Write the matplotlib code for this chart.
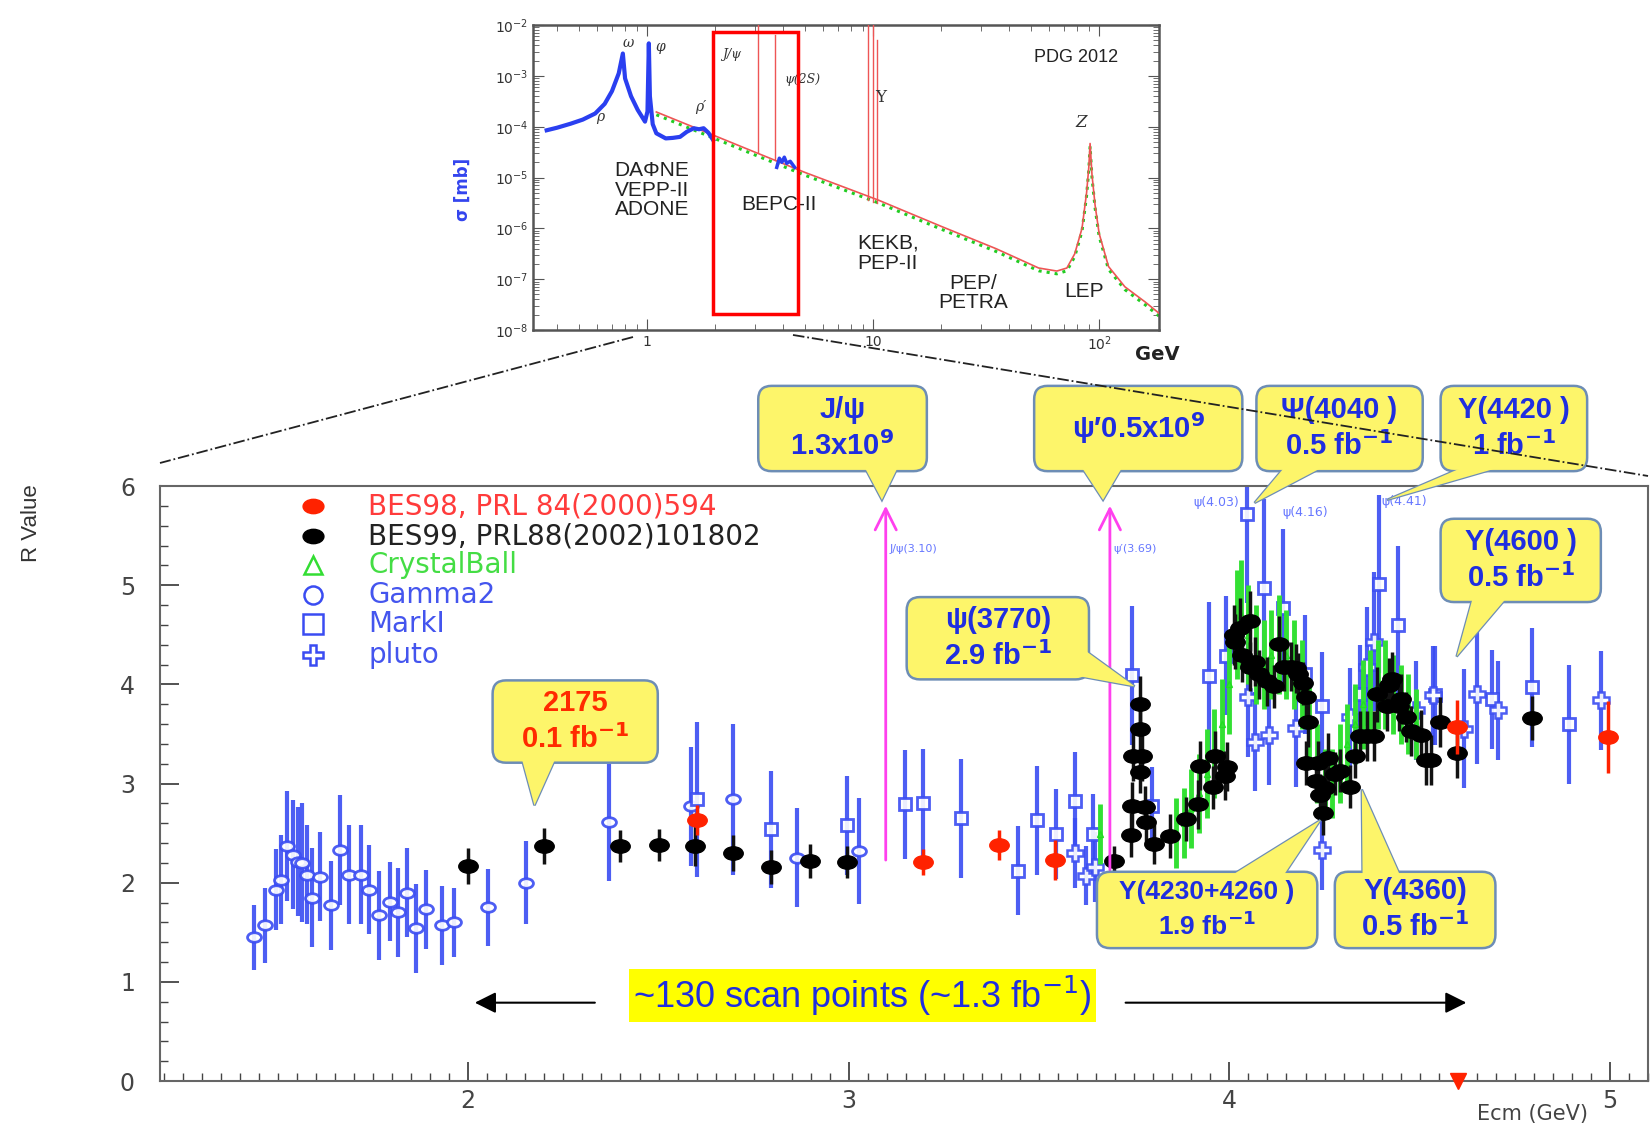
import matplotlib
matplotlib.use("Agg")
import matplotlib.pyplot as plt
from matplotlib.patches import FancyBboxPatch, Polygon, Rectangle
from matplotlib.path import Path
from matplotlib.transforms import Affine2D, ScaledTranslation
from matplotlib.lines import Line2D
from matplotlib.ticker import MultipleLocator, NullFormatter, LogLocator

# ---------------- main plot data: R value vs Ecm (GeV) ----------------
# BES98 (red)
bes98_E = [2.600, 3.196, 3.394, 3.542, 4.597, 4.994]
bes98_R = [2.63, 2.21, 2.38, 2.23, 3.57, 3.47]
bes98_err = [0.15, 0.13, 0.15, 0.20, 0.27, 0.36]

# BES99 (black)
bes99_E = [2.000, 2.200, 2.400, 2.500, 2.596, 2.696, 2.795, 2.897, 2.994,
           3.697, 3.742, 3.745, 3.748, 3.764, 3.764, 3.766, 3.770, 3.777, 3.781,
           3.802, 3.845, 3.886, 3.918, 3.924, 3.957, 3.963, 3.989, 3.995, 4.012,
           4.014, 4.027, 4.034, 4.053, 4.053, 4.066, 4.079, 4.098, 4.117, 4.130,
           4.143, 4.162, 4.175, 4.181, 4.194, 4.201, 4.201, 4.207, 4.227, 4.233,
           4.239, 4.246, 4.252, 4.259, 4.278, 4.291, 4.317, 4.329, 4.342, 4.361,
           4.381, 4.387, 4.413, 4.419, 4.426, 4.445, 4.451, 4.464, 4.477, 4.503,
           4.516, 4.529, 4.554, 4.597, 4.796]
bes99_R = [2.17, 2.37, 2.37, 2.38, 2.37, 2.30, 2.16, 2.22, 2.21,
           2.22, 2.48, 2.77, 3.28, 3.80, 3.55, 3.12, 3.28, 2.76, 2.61,
           2.39, 2.47, 2.64, 2.79, 3.18, 2.96, 3.28, 3.08, 3.17, 4.50,
           4.43, 4.57, 4.30, 4.64, 4.18, 4.23, 4.10, 4.03, 3.98, 4.41,
           4.18, 4.18, 4.16, 4.10, 4.01, 3.87, 3.21, 3.62, 3.03, 3.21,
           2.88, 2.70, 2.95, 3.26, 3.10, 3.13, 2.97, 3.28, 3.48, 3.48,
           3.48, 3.90, 3.78, 3.99, 4.05, 3.78, 3.85, 3.67, 3.53, 3.49,
           3.24, 3.24, 3.62, 3.31, 3.66]
bes99_err = [0.18, 0.18, 0.16, 0.16, 0.20, 0.18, 0.17, 0.17, 0.16,
             0.15, 0.22, 0.25, 0.25, 0.28, 0.25, 0.22, 0.25, 0.22, 0.22,
             0.20, 0.22, 0.22, 0.25, 0.25, 0.22, 0.25, 0.25, 0.25, 0.30,
             0.28, 0.30, 0.28, 0.30, 0.25, 0.25, 0.25, 0.25, 0.22, 0.28,
             0.25, 0.25, 0.25, 0.22, 0.22, 0.22, 0.22, 0.25, 0.22, 0.22,
             0.22, 0.22, 0.22, 0.25, 0.22, 0.22, 0.22, 0.22, 0.25, 0.25,
             0.25, 0.28, 0.25, 0.28, 0.28, 0.25, 0.25, 0.25, 0.25, 0.25,
             0.25, 0.25, 0.25, 0.25, 0.22]

# Crystal Ball (green)
cb_E = [3.661, 3.860, 3.880, 3.900, 3.920, 3.940, 3.960, 3.980, 4.000, 4.020,
        4.030, 4.050, 4.070, 4.090, 4.110, 4.130, 4.150, 4.170, 4.190, 4.210,
        4.230, 4.250, 4.270, 4.290, 4.310, 4.330, 4.350, 4.370, 4.390, 4.410,
        4.430, 4.450, 4.470, 4.490]
cb_R = [2.49, 2.50, 2.60, 2.75, 2.90, 3.10, 3.30, 3.60, 4.00, 4.60,
        4.70, 4.50, 4.30, 4.20, 4.30, 4.40, 4.30, 4.20, 4.00, 3.60,
        3.20, 3.00, 3.00, 3.20, 3.40, 3.60, 3.80, 3.90, 4.00, 4.00,
        3.90, 3.80, 3.70, 3.60]
cb_err = [0.30, 0.35, 0.35, 0.40, 0.40, 0.45, 0.45, 0.45, 0.50, 0.55,
          0.55, 0.50, 0.50, 0.45, 0.45, 0.50, 0.45, 0.45, 0.45, 0.40,
          0.40, 0.35, 0.35, 0.40, 0.40, 0.40, 0.45, 0.45, 0.45, 0.45,
          0.40, 0.40, 0.40, 0.35]

# Gamma2 (blue open ellipses)
g2_E = [1.437, 1.466, 1.494, 1.509, 1.525, 1.540, 1.553, 1.563, 1.575, 1.590,
        1.611, 1.640, 1.662, 1.686, 1.717, 1.739, 1.766, 1.795, 1.816, 1.838,
        1.863, 1.890, 1.930, 1.963, 2.053, 2.152, 2.369, 2.584, 2.696, 2.863,
        3.027]
g2_R = [1.45, 1.57, 1.93, 2.03, 2.37, 2.28, 2.21, 2.20, 2.08, 1.85,
        2.06, 1.77, 2.33, 2.08, 2.08, 1.93, 1.67, 1.81, 1.70, 1.90,
        1.54, 1.73, 1.57, 1.60, 1.75, 2.00, 2.61, 2.77, 2.84, 2.25,
        2.32]
g2_err = [0.33, 0.38, 0.41, 0.45, 0.55, 0.55, 0.55, 0.60, 0.50, 0.50,
          0.45, 0.45, 0.55, 0.50, 0.50, 0.45, 0.45, 0.40, 0.45, 0.45,
          0.45, 0.40, 0.40, 0.35, 0.39, 0.42, 0.59, 0.60, 0.76, 0.50,
          0.53]

# MarkI (blue open squares)
mk_E = [2.600, 2.795, 2.996, 3.147, 3.196, 3.295, 3.445, 3.494, 3.545, 3.593,
        3.642, 3.745, 3.796, 3.946, 3.991, 4.046, 4.092, 4.140, 4.198, 4.243,
        4.342, 4.393, 4.442, 4.539, 4.689, 4.796, 4.892]
mk_R = [2.84, 2.54, 2.58, 2.79, 2.80, 2.65, 2.12, 2.63, 2.49, 2.82,
        2.49, 4.09, 2.77, 4.08, 4.29, 5.72, 4.97, 4.77, 4.10, 3.78,
        3.90, 5.01, 4.60, 3.89, 3.85, 3.97, 3.60]
mk_err = [0.78, 0.59, 0.50, 0.55, 0.55, 0.60, 0.45, 0.55, 0.45, 0.50,
          0.40, 0.70, 0.40, 0.75, 0.60, 0.90, 0.90, 0.80, 0.60, 0.55,
          0.50, 0.90, 0.80, 0.50, 0.50, 0.60, 0.60]

# pluto (blue open crosses)
pl_E = [3.594, 3.622, 3.648, 4.049, 4.066, 4.104, 4.175, 4.243, 4.316, 4.361,
        4.381, 4.490, 4.535, 4.616, 4.650, 4.705, 4.976]
pl_R = [2.30, 2.07, 2.16, 3.87, 3.42, 3.49, 3.56, 2.33, 3.67, 4.18,
        4.43, 3.74, 3.89, 3.55, 3.90, 3.74, 3.84]
pl_err = [0.35, 0.30, 0.35, 0.60, 0.50, 0.50, 0.60, 0.40, 0.50, 0.60,
          0.70, 0.50, 0.50, 0.60, 0.70, 0.50, 0.50]

legend_labels = ["BES98, PRL 84(2000)594", "BES99, PRL88(2002)101802",
                 "CrystalBall", "Gamma2", "MarkI", "pluto"]

# narrow resonances marked with arrows
res_E = [3.097, 3.686]
res_bottom = [2.20, 2.10]
res_labels = ["J/ψ(3.10)", "ψ′(3.69)"]
psi_lab_E = [3.906, 4.140, 4.400]
psi_lab_R = [5.83, 5.73, 5.84]
psi_labels = ["ψ(4.03)", "ψ(4.16)", "ψ(4.41)"]

# callouts: box (E0, E1, R0, R1), tail (base1, tip, base2), text, colour, size
callouts = [
    ((2.762, 3.205, 6.15, 7.01), ((3.04, 6.2), (3.087, 5.86), (3.13, 6.2)),
     "J/ψ\n1.3x10$^{\\mathbf{9}}$", "#1f2ee0", 21),
    ((3.487, 4.034, 6.15, 7.01), ((3.61, 6.2), (3.668, 5.86), (3.72, 6.2)),
     "ψ′0.5x10$^{\\mathbf{9}}$", "#1f2ee0", 21),
    ((4.071, 4.508, 6.15, 7.01), ((4.147, 6.2), (4.066, 5.83), (4.25, 6.2)),
     "Ψ(4040 )\n0.5 fb$^{\\mathbf{-1}}$", "#1f2ee0", 21),
    ((4.555, 4.940, 6.15, 7.01), ((4.62, 6.2), (4.414, 5.86), (4.72, 6.2)),
     "Υ(4420 )\n1 fb$^{\\mathbf{-1}}$", "#1f2ee0", 21),
    ((4.555, 4.976, 4.83, 5.67), ((4.64, 4.88), (4.597, 4.28), (4.73, 4.88)),
     "Υ(4600 )\n0.5 fb$^{\\mathbf{-1}}$", "#1f2ee0", 21),
    ((3.152, 3.631, 4.05, 4.88), ((3.58, 4.10), (3.751, 3.98), (3.60, 4.40)),
     "ψ(3770)\n2.9 fb$^{\\mathbf{-1}}$", "#1f2ee0", 21),
    ((2.064, 2.498, 3.21, 4.04), ((2.14, 3.26), (2.174, 2.78), (2.23, 3.26)),
     "2175\n0.1 fb$^{\\mathbf{-1}}$", "#ff2a00", 21),
    ((3.652, 4.231, 1.34, 2.11), ((4.00, 2.06), (4.239, 2.63), (4.14, 2.06)),
     "Υ(4230+4260 )\n1.9 fb$^{\\mathbf{-1}}$", "#1f2ee0", 19),
    ((4.277, 4.699, 1.34, 2.11), ((4.35, 2.06), (4.348, 2.94), (4.45, 2.06)),
     "Υ(4360)\n0.5 fb$^{\\mathbf{-1}}$", "#1f2ee0", 21),
]

scan_range = (2.01, 4.63)
scan_text = "~130 scan points (~1.3 fb$^{-1}$)"

# ---------------- inset data: PDG 2012 cross section ----------------
low_E = [0.36, 0.40, 0.46, 0.52, 0.59, 0.65, 0.70, 0.75, 0.782, 0.80,
         0.85, 0.91, 0.98, 1.005, 1.019, 1.03, 1.06, 1.10, 1.21, 1.30,
         1.40, 1.50, 1.61, 1.70, 1.78, 1.87, 1.96]
low_logsig = [-4.07, -4.02, -3.94, -3.86, -3.74, -3.55, -3.30, -2.95, -2.56, -3.05,
              -3.40, -3.67, -3.90, -3.70, -2.36, -3.40, -3.95, -4.13, -4.23, -4.22,
              -4.20, -4.10, -4.03, -4.05, -4.03, -4.12, -4.26]
bepc_blue_E = [3.75, 3.85, 3.95, 4.05, 4.15, 4.30, 4.50]
bepc_blue_logsig = [-4.80, -4.62, -4.70, -4.60, -4.72, -4.68, -4.80]
cont_E = [1.1, 2.0, 3.0, 5.0, 10.5, 20, 35, 54, 65, 72, 78, 84, 88, 90,
          91.2, 93, 96, 100, 110, 130, 160, 184]
cont_logsig = [-3.71, -4.18, -4.50, -4.90, -5.44, -5.96, -6.40, -6.78, -6.84, -6.78,
               -6.50, -6.00, -5.30, -4.80, -4.33, -4.95, -5.55, -6.10, -6.75, -7.15,
               -7.45, -7.67]
spike_E = [3.097, 3.686, 9.46, 10.02, 10.36]
spike_base = [-4.50, -4.65, -5.45, -5.48, -5.50]
spike_top = [-1.90, -2.20, -1.90, -2.00, -2.30]
bepc_box_E = (1.96, 4.66)
bepc_box_sig = (2.1e-8, 7.2e-3)

BLUE = "#3a4cf2"
SANS = ["Liberation Sans", "DejaVu Sans"]

fig = plt.figure(figsize=(16.51, 11.29), dpi=100)
fig.patch.set_facecolor("white")

# ================= main axes =================
ax = fig.add_axes([0.0969, 0.0425, 0.9013, 0.527])
ax.set_xlim(1.19, 5.10)
ax.set_ylim(0, 6)

ell = Path.unit_circle().transformed(Affine2D().scale(1.45, 1.0))

ax.errorbar(g2_E, g2_R, yerr=g2_err, ls="none", marker=ell, ms=10, mfc="white",
            mec=BLUE, mew=2, ecolor=BLUE, elinewidth=3, alpha=0.9, zorder=2)
ax.errorbar(mk_E, mk_R, yerr=mk_err, ls="none", marker="s", ms=8.5, mfc="white",
            mec=BLUE, mew=2, ecolor=BLUE, elinewidth=3, alpha=0.9, zorder=2)
ax.errorbar(pl_E, pl_R, yerr=pl_err, ls="none", marker="P", ms=11, mfc="white",
            mec=BLUE, mew=1.8, ecolor=BLUE, elinewidth=3, alpha=0.9, zorder=2)
ax.errorbar(cb_E, cb_R, yerr=cb_err, ls="none", marker="^", ms=5, mfc="none",
            mec="#22dd22", ecolor="#33e033", elinewidth=3.5, zorder=3)
ax.errorbar(bes99_E, bes99_R, yerr=bes99_err, ls="none", marker=ell, ms=14,
            mfc="black", mec="black", ecolor="#111111", elinewidth=2.5, zorder=4)
ax.errorbar(bes98_E, bes98_R, yerr=bes98_err, ls="none", marker=ell, ms=14,
            mfc="#ff2200", mec="#ff2200", ecolor="#ff2200", elinewidth=2.5, zorder=5)

# resonance arrows
for e, b, lab in zip(res_E, res_bottom, res_labels):
    ax.annotate("", xy=(e, 5.83), xytext=(e, b),
                arrowprops=dict(arrowstyle="->", color="#ff40ee", lw=2,
                                mutation_scale=38), zorder=6)
    ax.text(e + 0.01, 5.36, lab, color="#6677ff", fontsize=8, va="center")
for e, r, lab in zip(psi_lab_E, psi_lab_R, psi_labels):
    ax.text(e, r, lab, color="#6677ff", fontsize=9, va="center")

# legend (manual)
leg_marks = [dict(marker=ell, ms=15, mfc="#ff2200", mec="#ff2200"),
             dict(marker=ell, ms=15, mfc="black", mec="black"),
             dict(marker="^", ms=13, mfc="none", mec="#33dd33", mew=1.8),
             dict(marker="o", ms=13, mfc="none", mec=BLUE, mew=1.8),
             dict(marker="s", ms=14, mfc="none", mec=BLUE, mew=1.8),
             dict(marker="P", ms=15, mfc="none", mec=BLUE, mew=1.8)]
leg_colors = ["#ff3b3b", "#222222", "#44dd44", "#4455ee", "#4455ee", "#4455ee"]
leg_y = [0.966, 0.916, 0.867, 0.817, 0.768, 0.716]
for mk, col, y, lab in zip(leg_marks, leg_colors, leg_y, legend_labels):
    ax.plot([0.103], [y], transform=ax.transAxes, ls="none", **mk)
    ax.text(0.14, y, lab, transform=ax.transAxes, color=col, fontsize=20,
            va="center", family="DejaVu Sans")


def callout(box, tail, text, color, fs):
    e0, e1, r0, r1 = box
    z = 8
    tail_pts = list(tail)
    ax.add_patch(Polygon(tail_pts, closed=True, fc="#fdf56a", ec="#6d8db5", lw=1.8,
                         zorder=z, clip_on=False))
    ax.add_patch(FancyBboxPatch((e0, r0), e1 - e0, r1 - r0,
                                boxstyle="round,pad=0,rounding_size=0.035",
                                mutation_aspect=3.85, fc="#fdf56a", ec="#6d8db5",
                                lw=1.8, zorder=z + 0.1, clip_on=False))
    ax.add_patch(Polygon(tail_pts, closed=True, fc="#fdf56a", ec="none",
                         zorder=z + 0.2, clip_on=False))
    ax.text((e0 + e1) / 2, (r0 + r1) / 2, text, ha="center", va="center",
            color=color, fontsize=fs, fontweight="bold", family=SANS,
            linespacing=1.3, zorder=z + 0.3, clip_on=False)


for box, tail, text, color, fs in callouts:
    callout(box, tail, text, color, fs)

# scan points arrows and label
ax.annotate("", xy=(scan_range[0], 0.79), xytext=(2.34, 0.79),
            arrowprops=dict(arrowstyle="-|>", color="black", lw=1.5, mutation_scale=32))
ax.annotate("", xy=(scan_range[1], 0.79), xytext=(3.72, 0.79),
            arrowprops=dict(arrowstyle="-|>", color="black", lw=1.5, mutation_scale=32))
ax.text(3.035, 0.86, scan_text, ha="center", va="center", color="#1f2ee0",
        fontsize=26, family=SANS,
        bbox=dict(boxstyle="square,pad=0.12", fc="#ffff00", ec="none"))

ax.plot([4.6], [0.0], marker="v", ms=12, color="#ff2200", ls="none",
        clip_on=False, zorder=9)

ax.xaxis.set_major_locator(MultipleLocator(1))
ax.xaxis.set_minor_locator(MultipleLocator(0.05))
ax.yaxis.set_major_locator(MultipleLocator(1))
ax.yaxis.set_minor_locator(MultipleLocator(0.2))
ax.tick_params(which="both", direction="in", colors="#444444", labelsize=17)
ax.tick_params(which="major", length=14, width=1.3)
ax.tick_params(which="minor", length=6, width=1.0)
ax.tick_params(axis="y", pad=18)
ax.tick_params(axis="x", pad=6)
for s in ax.spines.values():
    s.set_color("#666666")
    s.set_linewidth(1.5)

fig.text(0.019, 0.537, "R Value", rotation=90, ha="center", va="center",
         fontsize=16, color="#333333", family=SANS)
fig.text(0.962, 0.013, "Ecm (GeV)", ha="right", va="center", fontsize=15,
         color="#444444")

# ================= inset =================
axi = fig.add_axes([0.3228, 0.7077, 0.3792, 0.2701])
axi.set_xscale("log")
axi.set_yscale("log")
axi.set_xlim(0.313, 184)
axi.set_ylim(1e-8, 1e-2)

low_sig = [10 ** v for v in low_logsig]
bb_sig = [10 ** v for v in bepc_blue_logsig]
cont_sig = [10 ** v for v in cont_logsig]

shift = ScaledTranslation(0, -2 / 72, fig.dpi_scale_trans)
axi.plot(cont_E, cont_sig, ls=":", color="#22cc22", lw=2.2,
         transform=axi.transData + shift, zorder=2)
axi.plot(cont_E, cont_sig, color="#ee5555", lw=1.2, zorder=3)
for e, b, t in zip(spike_E, spike_base, spike_top):
    axi.plot([e, e], [10 ** b, 10 ** t], color="#ee5555", lw=1.0, zorder=3)
axi.plot(low_E, low_sig, color="#2a3ff0", lw=3.0, zorder=4)
axi.plot(bepc_blue_E, bb_sig, color="#2a3ff0", lw=2.5, zorder=4)
axi.add_patch(Rectangle((bepc_box_E[0], bepc_box_sig[0]),
                        bepc_box_E[1] - bepc_box_E[0],
                        bepc_box_sig[1] - bepc_box_sig[0],
                        fill=False, ec="#ff0000", lw=2.5, zorder=5))

axi.set_xticks([1, 10, 100], ["1", "10", "$10^{2}$"])
axi.xaxis.set_minor_locator(LogLocator(subs=range(2, 10)))
axi.xaxis.set_minor_formatter(NullFormatter())
axi.set_yticks([1e-8, 1e-7, 1e-6, 1e-5, 1e-4, 1e-3, 1e-2])
axi.yaxis.set_minor_locator(LogLocator(subs=range(2, 10)))
axi.yaxis.set_minor_formatter(NullFormatter())
axi.tick_params(which="both", direction="in", top=True, right=True,
                colors="#555555", labelsize=10, labelcolor="#333333")
axi.tick_params(which="major", length=8)
axi.tick_params(which="minor", length=4)
for s in axi.spines.values():
    s.set_color("#555555")
    s.set_linewidth(1.8)

inset_labels = [
    (0.107, 0.698, "ρ", 10, "italic"), (0.152, 0.941, "ω", 10, "italic"),
    (0.203, 0.928, "φ", 10, "italic"), (0.268, 0.731, "ρ′", 10, "italic"),
    (0.318, 0.902, "J/ψ", 9, "italic"), (0.431, 0.82, "ψ(2S)", 9, "italic"),
    (0.556, 0.764, "Υ", 12, "normal"), (0.875, 0.679, "Z", 12, "italic"),
]
for fx, fy, t, fs, st in inset_labels:
    axi.text(fx, fy, t, transform=axi.transAxes, fontsize=fs, style=st,
             ha="center", va="center", color="#333333", family="DejaVu Serif")
inset_words = [
    (0.867, 0.892, "PDG 2012", 13), (0.19, 0.459, "DAΦNE\nVEPP-II\nADONE", 15),
    (0.393, 0.41, "BEPC-II", 15), (0.567, 0.252, "KEKB,\nPEP-II", 15),
    (0.703, 0.121, "PEP/\nPETRA", 15), (0.88, 0.125, "LEP", 15),
]
for fx, fy, t, fs in inset_words:
    axi.text(fx, fy, t, transform=axi.transAxes, fontsize=fs, ha="center",
             va="center", color="#222222", family=SANS, linespacing=1.05)

fig.text(0.2805, 0.832, "σ [mb]", rotation=90, ha="center", va="center",
         fontsize=12, color="#3344ee", fontweight="bold")
fig.text(0.701, 0.6856, "GeV", ha="center", va="center", fontsize=14,
         fontweight="bold", color="#222222")

# dash-dot zoom lines
fig.add_artist(Line2D([0.3834, 0.0969], [0.7015, 0.5899], transform=fig.transFigure,
                      color="#222222", lw=1.3, ls="-.", zorder=20))
fig.add_artist(Line2D([0.4803, 0.9982], [0.7033, 0.5784], transform=fig.transFigure,
                      color="#222222", lw=1.3, ls="-.", zorder=20))

fig.savefig("out.png", dpi=100, facecolor="white")
